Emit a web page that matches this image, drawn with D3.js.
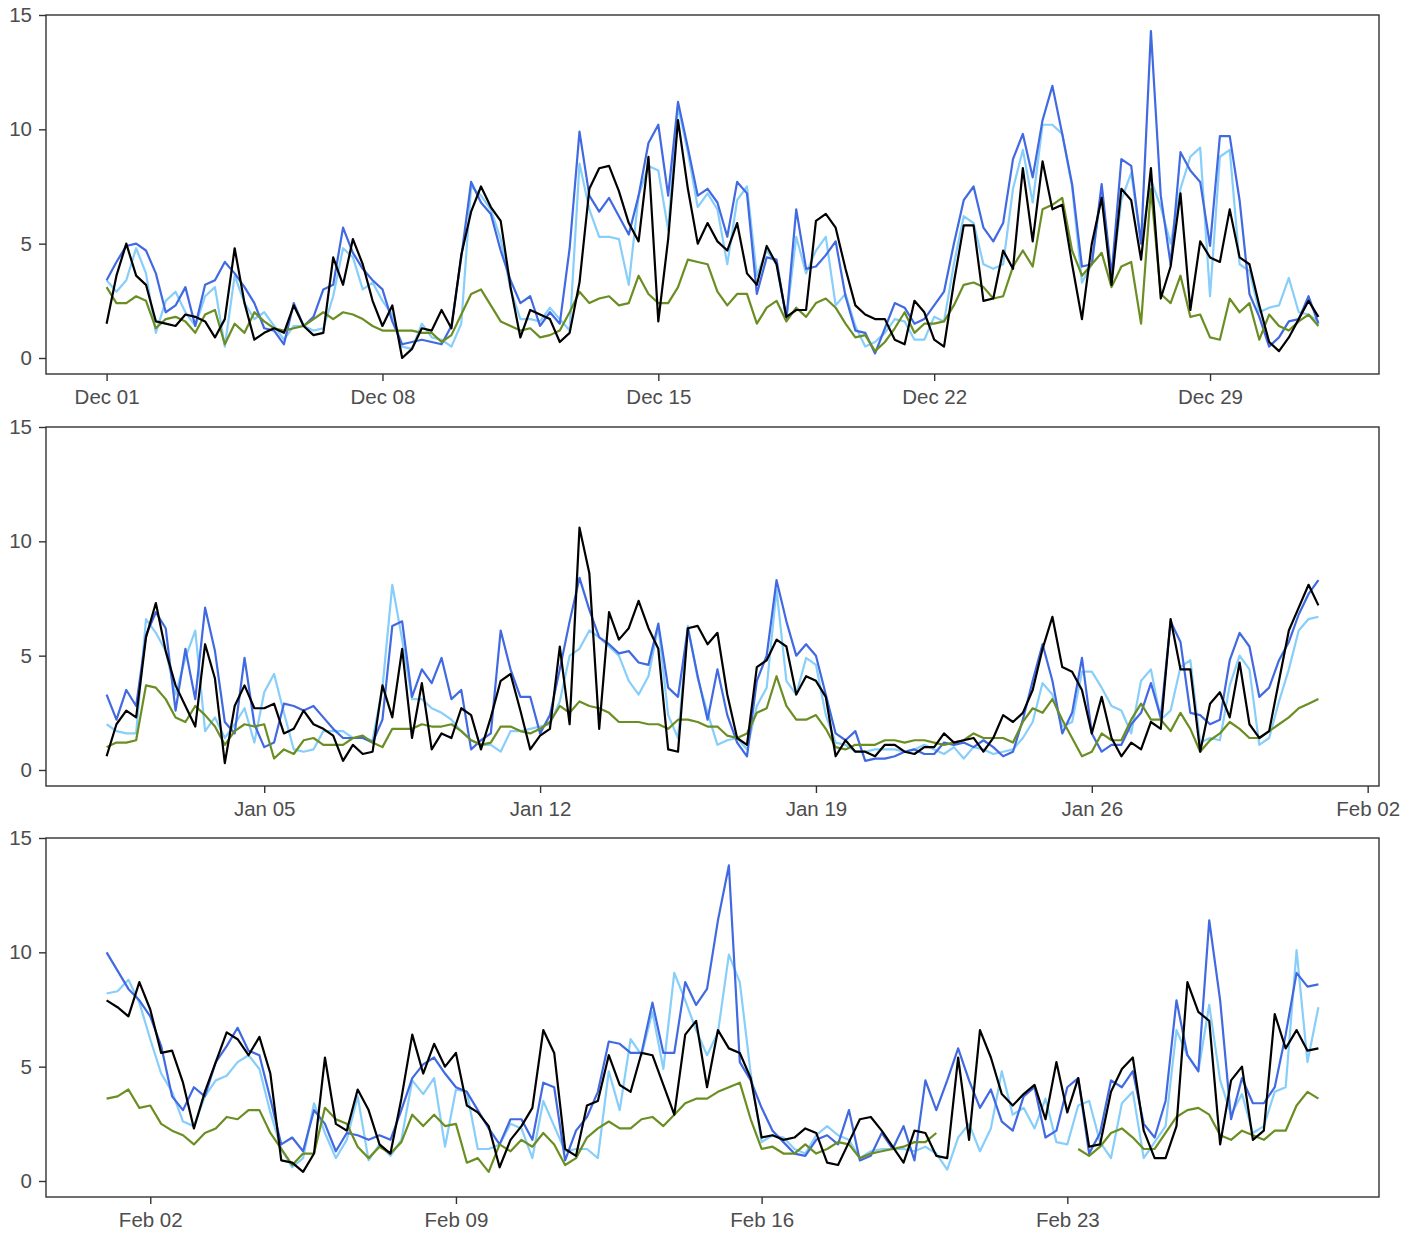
<!DOCTYPE html>
<html><head><meta charset="utf-8">
<script src="https://cdn.jsdelivr.net/npm/d3@7"></script>
<style>
body{margin:0;background:#fff;}
svg text{font-family:"Liberation Sans",Arial,Helvetica,sans-serif;}
</style></head><body>
<svg id="chart" width="1405" height="1234"></svg>
<script>
// ---------------- data ----------------
const seriesColors = ["#87CEFA","#4169E1","#6B8E23","#000000"]; // light blue, blue, green, black
const panelStarts = ["2018-12-01","2019-01-01","2019-02-01"];
const stepHours = 6;
const yTickValues = [0,5,10,15];
const decTickLabels = ["2018-12-01","2018-12-08","2018-12-15","2018-12-22","2018-12-29"];
const janTickLabels = ["2019-01-05","2019-01-12","2019-01-19","2019-01-26","2019-02-02"];
const febTickLabels = ["2019-02-02","2019-02-09","2019-02-16","2019-02-23"];

const decBlue = [3.4,4.2,4.9,5.0,4.7,3.7,2.0,2.3,3.1,1.4,3.2,3.4,4.2,3.7,3.1,2.4,1.3,1.2,0.6,2.4,1.4,1.8,3.0,3.2,5.7,4.6,3.9,3.4,3.0,
1.6,0.6,0.7,0.8,0.7,0.6,1.4,4.4,7.7,6.8,6.3,4.7,3.4,2.4,2.7,1.4,2.0,1.5,4.8,9.9,7.1,6.4,7.0,6.2,5.4,7.1,9.4,10.2,7.1,11.2,9.2,7.1,7.4,6.8,
5.3,7.7,7.2,2.8,4.4,4.3,1.7,6.5,3.9,4.0,4.5,5.1,2.7,1.2,1.1,0.2,1.3,2.4,2.2,1.5,1.7,2.3,2.9,5.0,6.9,7.5,5.7,5.1,5.9,8.7,9.8,7.9,10.4,
11.9,9.8,7.6,4.0,4.1,7.6,3.6,8.7,8.4,5.0,14.3,7.1,4.1,9.0,8.2,7.7,4.9,9.7,9.7,6.9,2.8,1.8,0.5,0.9,1.6,1.7,2.7,1.5];
const decLight = [3.4,2.9,3.4,4.8,3.7,1.1,2.5,2.9,2.0,1.4,2.7,3.1,0.5,3.6,2.4,1.7,2.0,1.4,0.8,1.4,1.4,1.2,1.3,2.7,4.8,4.4,3.0,3.3,2.5,
1.9,0.5,0.4,1.5,0.9,0.8,0.5,1.5,7.5,7.1,6.5,5.2,3.0,1.7,1.7,1.6,2.2,1.7,1.2,8.5,6.5,5.3,5.3,5.2,3.2,7.1,8.4,8.2,5.6,11.0,9.0,6.6,7.2,6.5,
4.1,6.9,7.5,3.6,4.7,4.1,1.7,5.3,3.7,4.7,5.3,2.3,2.8,1.4,0.5,0.7,1.1,1.7,1.6,0.8,0.8,1.8,1.6,4.1,6.2,5.9,4.1,3.9,4.1,7.4,9.1,6.8,10.2,
10.2,9.8,7.5,3.3,4.1,7.4,3.3,6.9,8.1,5.0,7.8,6.6,5.0,7.4,8.8,9.2,2.7,8.8,9.1,4.1,3.8,2.0,2.2,2.3,3.5,2.0,1.9,1.6];
const decGreen = [3.1,2.4,2.4,2.7,2.5,1.3,1.7,1.8,1.6,1.1,1.9,2.1,0.6,1.5,1.1,2.0,1.6,1.3,1.2,1.3,1.4,1.7,2.0,1.7,2.0,1.9,1.7,1.4,1.2,
1.2,1.2,1.2,1.1,1.1,0.7,1.0,1.9,2.8,3.0,2.3,1.6,1.4,1.2,1.3,0.9,1.0,1.2,2.0,2.9,2.4,2.6,2.7,2.3,2.4,3.6,2.8,2.4,2.4,3.1,4.3,4.2,4.1,2.9,
2.3,2.8,2.8,1.5,2.2,2.5,1.6,2.2,1.8,2.4,2.6,2.2,1.5,0.9,1.0,0.3,0.7,1.3,2.0,1.1,1.5,1.5,1.6,2.3,3.2,3.3,3.1,2.6,2.7,4.0,4.7,4.0,6.5,
6.7,7.0,4.7,3.6,4.1,4.6,3.1,4.0,4.2,1.5,7.4,2.8,2.4,3.6,1.8,1.9,0.9,0.8,2.6,2.0,2.4,0.8,1.9,1.4,1.2,1.6,1.9,1.4];
const decBlack = [1.5,3.6,5.0,3.6,3.2,1.6,1.5,1.4,1.9,1.8,1.6,0.9,1.7,4.8,2.4,0.8,1.1,1.3,1.1,2.3,1.4,1.0,1.1,4.4,3.2,5.2,4.1,2.5,1.4,
2.3,0.0,0.4,1.3,1.2,2.1,1.3,4.5,6.4,7.5,6.6,6.0,3.1,0.9,2.1,1.9,1.7,0.7,1.1,3.3,7.4,8.3,8.4,7.3,5.9,5.1,8.8,1.6,5.2,10.4,7.4,5.0,5.9,5.1,
4.7,5.9,3.7,3.2,4.9,4.1,1.8,2.1,2.1,6.0,6.3,5.7,3.9,2.3,1.9,1.7,1.7,0.8,0.6,2.5,2.0,0.8,0.5,3.3,5.8,5.8,2.5,2.6,4.7,3.9,8.3,5.1,8.6,
6.5,6.7,4.1,1.7,5.0,7.0,3.2,7.4,6.9,4.3,8.3,2.6,4.0,7.2,2.1,5.1,4.4,4.2,6.5,4.4,4.1,2.3,0.7,0.3,0.9,1.7,2.5,1.8];

const janBlue = [3.3,2.2,3.5,2.8,5.9,6.9,6.2,2.6,5.3,3.1,7.1,5.2,2.1,1.6,4.9,2.0,1.0,1.2,2.9,2.8,2.6,2.8,2.3,1.8,1.4,1.4,1.4,1.2,2.2,
6.3,6.5,3.2,4.4,3.8,4.9,3.1,3.5,0.9,1.3,1.6,6.1,4.4,3.2,3.2,1.6,2.4,4.4,6.5,8.4,7.0,5.8,5.5,5.1,5.2,4.7,4.6,6.4,3.6,3.2,6.2,4.1,2.2,4.4,
2.4,1.2,0.6,3.9,5.0,8.3,6.5,5.0,5.5,5.0,3.3,1.6,1.3,1.7,0.4,0.5,0.5,0.6,0.8,0.9,0.7,0.7,1.2,1.1,1.2,1.0,1.3,1.0,0.6,0.8,2.2,3.9,5.5,
3.9,1.6,2.5,4.9,1.6,0.8,1.1,1.1,2.0,2.5,3.8,2.3,6.5,5.6,2.5,2.4,2.0,2.2,4.8,6.0,5.4,3.2,3.6,4.8,5.6,6.8,7.7,8.3];
const janLight = [2.0,1.7,1.6,1.6,6.6,6.0,5.2,3.3,4.9,6.1,1.7,2.3,1.4,2.0,2.7,1.2,3.4,4.2,2.5,0.9,0.8,0.9,1.7,1.7,1.7,1.4,1.4,1.3,3.6,
8.1,5.7,3.1,3.1,2.7,2.5,2.2,1.7,1.3,1.1,1.1,0.8,1.7,1.7,1.8,1.9,2.0,3.0,5.0,5.3,6.1,5.8,5.4,5.0,3.9,3.3,4.1,6.3,2.4,1.4,6.3,4.0,2.5,1.1,
1.3,1.4,0.9,2.8,3.6,7.9,3.9,3.3,4.9,4.6,2.4,1.2,1.1,0.8,0.8,0.9,0.9,0.9,0.8,0.9,1.1,0.9,0.7,1.0,0.5,1.0,0.9,0.7,0.8,0.9,1.4,2.1,3.8,
3.3,1.9,2.1,4.3,4.3,3.6,2.8,2.6,1.6,3.9,4.4,2.2,2.6,4.5,4.8,1.2,1.4,1.3,3.7,5.0,4.4,1.1,1.4,3.0,4.4,6.1,6.6,6.7];
const janGreen = [1.0,1.2,1.2,1.3,3.7,3.6,3.1,2.3,2.1,2.8,2.4,1.9,1.1,1.7,2.0,1.9,2.0,0.5,0.9,0.7,1.3,1.4,1.1,1.1,1.1,1.4,1.5,1.2,1.0,
1.8,1.8,1.8,2.0,1.9,1.9,2.0,1.7,1.3,1.1,1.2,1.9,1.9,1.7,1.6,1.8,2.1,2.8,2.5,3.0,2.8,2.7,2.5,2.1,2.1,2.1,2.0,2.0,1.8,2.2,2.2,2.1,1.9,1.9,
1.5,1.4,1.6,2.5,2.7,4.1,2.8,2.2,2.2,2.4,1.8,1.0,0.9,1.1,1.1,1.1,1.3,1.3,1.2,1.3,1.3,1.2,1.1,1.2,1.3,1.6,1.4,1.4,1.4,1.2,2.1,2.7,2.5,
3.1,2.2,1.4,0.6,0.8,1.6,1.3,1.3,2.2,2.9,2.2,2.2,1.7,2.5,1.8,0.8,1.3,1.6,2.1,1.8,1.4,1.4,1.7,2.0,2.3,2.7,2.9,3.1];
const janBlack = [0.6,2.0,2.6,2.3,5.8,7.3,5.2,3.7,2.8,1.9,5.5,4.0,0.3,2.8,3.7,2.7,2.7,2.9,1.6,1.8,2.6,2.0,1.8,1.5,0.4,1.1,0.7,0.8,3.7,
2.3,5.3,1.4,3.8,0.9,1.6,1.4,2.7,2.4,0.9,2.3,3.9,4.2,2.6,0.9,1.5,1.8,5.4,2.0,10.6,8.6,1.8,6.9,5.7,6.2,7.4,6.2,5.3,0.9,0.8,6.2,6.3,5.5,6.0,
3.3,1.4,1.1,4.5,4.8,5.7,5.4,3.3,4.1,3.9,3.2,0.6,1.3,0.8,0.8,0.6,1.1,1.1,0.8,0.7,1.0,1.0,1.6,1.2,1.3,1.4,0.8,1.4,2.4,2.1,2.5,3.5,5.3,
6.7,4.5,4.3,3.5,1.6,3.2,1.4,0.6,1.2,0.9,2.1,1.8,6.6,4.4,4.4,0.8,2.9,3.4,2.3,4.7,2.0,1.4,1.7,3.9,6.1,7.1,8.1,7.2];

const febBlue = [10.0,9.2,8.4,7.9,7.2,5.9,3.7,3.1,4.1,3.7,5.2,5.9,6.7,5.7,5.5,3.6,1.6,1.9,1.3,3.1,2.5,1.3,2.1,2.0,1.8,2.0,
1.8,3.1,4.5,5.1,5.4,4.7,4.1,3.9,3.1,2.3,1.6,2.7,2.7,1.8,4.3,4.1,0.9,2.2,2.8,3.9,6.1,6.0,5.6,5.6,7.8,5.6,5.6,8.7,7.7,8.4,11.4,
13.8,5.2,4.4,3.2,2.2,1.7,1.2,1.1,1.8,2.0,1.6,3.1,0.9,1.1,2.1,1.4,2.4,0.9,4.4,3.1,4.4,5.8,4.4,3.2,4.0,2.6,2.2,3.7,
4.1,1.9,2.2,4.1,4.5,1.2,2.1,4.4,4.1,4.8,2.5,1.9,3.5,7.9,5.5,4.8,11.4,7.9,2.7,4.5,3.4,3.4,4.1,6.4,9.1,8.5,8.6];
const febLight = [8.2,8.3,8.8,7.8,6.2,4.7,3.9,2.6,2.4,3.7,4.4,4.6,5.2,5.5,4.9,3.0,1.4,0.6,1.0,3.4,2.1,1.0,1.8,3.7,0.9,1.6,
1.1,1.8,4.4,3.8,4.5,1.5,4.0,3.9,1.4,1.4,1.6,2.5,2.3,1.0,3.5,2.4,1.3,1.4,1.4,1.0,4.8,3.1,6.2,5.5,7.4,4.9,9.1,7.9,6.6,5.5,6.5,
9.9,8.7,4.7,1.7,2.0,1.9,1.4,1.2,2.0,2.4,2.0,1.8,1.0,1.3,1.4,1.4,1.4,1.3,1.5,1.2,0.5,1.9,2.5,1.3,2.3,4.8,2.9,3.2,
2.3,3.6,1.7,1.6,3.3,3.5,1.7,1.0,3.4,3.9,1.0,1.7,2.4,6.6,5.5,4.8,7.7,4.4,2.9,3.8,2.1,2.4,3.9,4.1,10.1,5.2,7.6];
const febGreen = [3.6,3.7,4.0,3.2,3.3,2.5,2.2,2.0,1.6,2.1,2.3,2.8,2.7,3.1,3.1,2.1,1.4,0.7,1.2,1.2,3.2,2.7,2.5,1.5,1.0,1.5,
1.2,1.7,2.9,2.4,2.9,2.4,2.5,0.8,1.0,0.4,1.6,1.3,1.8,1.5,2.1,1.6,0.7,1.0,1.9,2.3,2.6,2.3,2.3,2.7,2.8,2.4,2.9,3.4,3.6,3.6,3.9,
4.1,4.3,2.7,1.4,1.5,1.2,1.2,1.6,1.2,1.4,1.7,1.6,1.0,1.2,1.3,1.4,1.5,1.7,1.7,2.1,
null,null,null,null,null,null,null,null,null,null,null,null,
1.4,1.1,1.5,2.1,2.3,1.9,1.4,1.4,2.1,2.8,3.1,3.2,2.9,2.0,1.8,2.2,2.0,1.8,2.2,2.2,3.3,3.9,3.6];
const febBlack = [7.9,7.6,7.2,8.7,7.5,5.6,5.7,4.3,2.3,3.9,5.2,6.5,6.2,5.5,6.3,4.7,0.9,0.8,0.4,1.2,5.4,2.5,2.2,4.0,3.1,1.6,
1.2,3.6,6.4,4.7,6.0,5.0,5.6,3.3,3.0,2.4,0.6,1.8,2.4,3.2,6.6,5.6,1.4,1.1,3.3,3.5,5.5,4.2,3.9,5.6,5.5,4.2,2.9,6.4,7.0,4.1,6.6,
5.8,5.6,4.5,1.9,2.0,1.8,1.9,2.3,2.1,0.8,0.7,1.7,2.7,2.8,2.2,1.5,0.8,2.2,2.1,1.1,1.0,5.4,1.8,6.6,5.4,3.8,3.3,3.8,
4.2,2.7,5.2,3.0,4.5,1.5,1.6,3.9,4.9,5.4,2.2,1.0,1.0,2.4,8.7,7.4,7.0,1.6,4.4,5.0,1.8,2.2,7.3,5.8,6.6,5.7,5.8];

// ---------------- chart ----------------
const panelSeries = [
  [decLight, decBlue, decGreen, decBlack],
  [janLight, janBlue, janGreen, janBlack],
  [febLight, febBlue, febGreen, febBlack]
];
const panelTicks = [decTickLabels, janTickLabels, febTickLabels];

const svg = d3.select("#chart");
const left = 46, right = 1379, panelH = 359;
const panelTops = [15, 427, 838];
const parse = d3.utcParse("%Y-%m-%d");
const fmt = d3.utcFormat("%b %d");

panelSeries.forEach((series, p) => {
  const top = panelTops[p], bottom = top + panelH;
  const start = parse(panelStarts[p]);
  const n = series[0].length;
  const end = d3.utcHour.offset(start, stepHours * (n - 1));
  const span = end - start;
  const x = d3.scaleUtc()
    .domain([new Date(+start - 0.05 * span), new Date(+end + 0.05 * span)])
    .range([left, right]);
  const y = d3.scaleLinear().domain([-0.7, 15]).range([bottom, top]);

  const g = svg.append("g");
  const clipId = "clip" + p;
  g.append("clipPath").attr("id", clipId).append("rect")
    .attr("x", left).attr("y", top).attr("width", right - left).attr("height", panelH);

  const line = d3.line()
    .defined(d => d.v != null)
    .x(d => x(d.t)).y(d => y(d.v));

  const lines = g.append("g").attr("clip-path", `url(#${clipId})`);
  series.forEach((vals, s) => {
    const data = vals.map((v, i) => ({t: d3.utcHour.offset(start, stepHours * i), v}));
    lines.append("path").datum(data)
      .attr("fill", "none")
      .attr("stroke", seriesColors[s])
      .attr("stroke-width", 2.2)
      .attr("stroke-linejoin", "round")
      .attr("d", line);
  });

  // border
  g.append("rect").attr("x", left).attr("y", top).attr("width", right - left).attr("height", panelH)
    .attr("fill", "none").attr("stroke", "#333333").attr("stroke-width", 1.4);

  const yAxis = d3.axisLeft(y).tickValues(yTickValues).tickSize(7).tickPadding(7).tickFormat(d3.format("d"));
  const ya = g.append("g").attr("transform", `translate(${left},0)`).call(yAxis);
  const xAxis = d3.axisBottom(x).tickValues(panelTicks[p].map(parse)).tickSize(7).tickPadding(8).tickFormat(fmt);
  const xa = g.append("g").attr("transform", `translate(0,${bottom})`).call(xAxis);
  [ya, xa].forEach(a => {
    a.select(".domain").remove();
    a.selectAll(".tick line").attr("stroke", "#333333").attr("stroke-width", 1.4);
    a.selectAll(".tick text").attr("fill", "#4D4D4D").style("font-size", "20.5px")
      .style("font-family", "'Liberation Sans', Arial, sans-serif");
  });
});
</script>
</body></html>
